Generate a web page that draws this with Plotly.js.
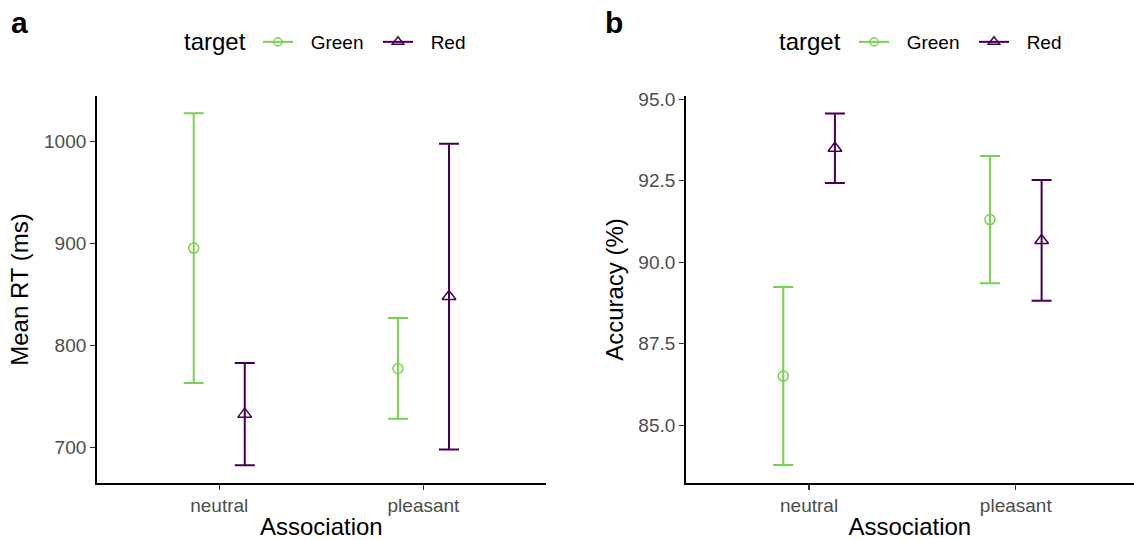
<!DOCTYPE html>
<html>
<head>
<meta charset="utf-8">
<script src="https://cdn.plot.ly/plotly-3.0.1.min.js"></script>
<style>html,body{margin:0;padding:0;background:#fff;}#chart{width:1134px;height:540px;}</style>
</head>
<body>
<div id="chart"></div>
<script>
// ---- data ----
const categories = ['neutral', 'pleasant'];
const targets = ['Green', 'Red'];

// Panel a: Mean RT (ms)
const rtGreenMean = [895.4, 777.4];
const rtGreenLow  = [763.2, 728.0];
const rtGreenHigh = [1027.7, 826.8];
const rtRedMean   = [732.6, 847.9];
const rtRedLow    = [682.4, 698.0];
const rtRedHigh   = [782.8, 997.7];

// Panel b: Accuracy (%)
const accGreenMean = [86.51, 91.31];
const accGreenLow  = [83.78, 89.36];
const accGreenHigh = [89.24, 93.26];
const accRedMean   = [93.50, 90.67];
const accRedLow    = [92.43, 88.82];
const accRedHigh   = [94.56, 92.52];

const rtTicks  = [700, 800, 900, 1000];
const accTicks = [85, 87.5, 90, 92.5, 95];

// ---- styling ----
const FONT = 'Liberation Sans, Arial, Helvetica, sans-serif';
const COLORS = {Green: '#7AD151', Red: '#440154'};
const SYMBOLS = {Green: 'circle-open', Red: 'triangle-up-open'};
const SIZES = {Green: 10, Red: 12};
const LEGEND_LABELS = {Green: '\u2002\u2006Green\u2002', Red: '\u2002\u2006Red'};
const DODGE = 0.125;
const catPos = categories.map((c, i) => i + 1);

function errTrace(name, mean, low, high, xa, ya, sign) {
  return {
    type: 'scatter', mode: 'markers', name: name, showlegend: false,
    x: catPos.map(p => p + sign * DODGE), y: mean,
    xaxis: xa, yaxis: ya,
    marker: {symbol: SYMBOLS[name], size: SIZES[name], color: COLORS[name], line: {width: 1.5, color: COLORS[name]}},
    error_y: {type: 'data', symmetric: false,
      array: high.map((h, i) => h - mean[i]),
      arrayminus: low.map((l, i) => mean[i] - l),
      color: COLORS[name], thickness: 2, width: 10}
  };
}
function legendTrace(name, xa, ya, leg) {
  return {
    type: 'scatter', mode: 'lines+markers', name: LEGEND_LABELS[name], legend: leg,
    x: [null], y: [null], xaxis: xa, yaxis: ya,
    line: {color: COLORS[name], width: 2},
    marker: {symbol: SYMBOLS[name], size: SIZES[name] - 2, color: COLORS[name], line: {width: 1.5, color: COLORS[name]}}
  };
}

const data = [
  errTrace('Green', rtGreenMean, rtGreenLow, rtGreenHigh, 'x', 'y', -1),
  errTrace('Red', rtRedMean, rtRedLow, rtRedHigh, 'x', 'y', 1),
  errTrace('Green', accGreenMean, accGreenLow, accGreenHigh, 'x2', 'y2', -1),
  errTrace('Red', accRedMean, accRedLow, accRedHigh, 'x2', 'y2', 1),
  legendTrace('Green', 'x', 'y', 'legend'),
  legendTrace('Red', 'x', 'y', 'legend'),
  legendTrace('Green', 'x2', 'y2', 'legend2'),
  legendTrace('Red', 'x2', 'y2', 'legend2')
];

const axisCommon = {
  showline: true, linecolor: '#000', linewidth: 1.6,
  ticks: 'outside', ticklen: 5, tickwidth: 1.4, tickcolor: '#333',
  showgrid: false, zeroline: false,
  tickfont: {family: FONT, size: 19, color: '#4D4D4D'}
};
const titleFont = {family: FONT, size: 24, color: '#000'};

const LEG_Y = (540 - 42) / 540;
const legendCommon = {
  orientation: 'h', yanchor: 'middle', xanchor: 'left',
  font: {family: FONT, size: 19, color: '#000'},
  bgcolor: 'rgba(0,0,0,0)', itemclick: false
};

const layout = {
  width: 1134, height: 540,
  margin: {l: 0, r: 0, t: 0, b: 0},
  paper_bgcolor: '#fff', plot_bgcolor: '#fff',
  font: {family: FONT},
  showlegend: true,
  xaxis: Object.assign({}, axisCommon, {
    domain: [96.7 / 1134, 546 / 1134], range: [0.4, 2.6],
    tickvals: catPos, ticktext: categories,
    title: {text: 'Association', font: titleFont, standoff: 3}
  }),
  yaxis: Object.assign({}, axisCommon, {
    domain: [(540 - 483) / 540, (540 - 96) / 540], range: [665.1, 1044.5],
    tickvals: rtTicks, anchor: 'x',
    title: {text: 'Mean RT (ms)', font: titleFont, standoff: 8}
  }),
  xaxis2: Object.assign({}, axisCommon, {
    domain: [685.7 / 1134, 1], range: [0.403, 2.572], anchor: 'y2',
    tickvals: catPos, ticktext: categories,
    title: {text: 'Association', font: titleFont, standoff: 3}
  }),
  yaxis2: Object.assign({}, axisCommon, {
    domain: [(540 - 483) / 540, (540 - 96) / 540], range: [83.23, 95.1],
    tickvals: accTicks, tickformat: '.1f', anchor: 'x2',
    title: {text: 'Accuracy (%)', font: titleFont, standoff: 8}
  }),
  legend: Object.assign({}, legendCommon, {x: 258 / 1134, y: LEG_Y}),
  legend2: Object.assign({}, legendCommon, {x: 854 / 1134, y: LEG_Y}),
  annotations: [
    {text: '<b>a</b>', xref: 'paper', yref: 'paper', x: 9 / 1134, y: 1 - 4 / 540,
     xanchor: 'left', yanchor: 'top', showarrow: false, font: {family: FONT, size: 30, color: '#000'}},
    {text: '<b>b</b>', xref: 'paper', yref: 'paper', x: 603 / 1134, y: 1 - 4 / 540,
     xanchor: 'left', yanchor: 'top', showarrow: false, font: {family: FONT, size: 30, color: '#000'}},
    {text: 'target', xref: 'paper', yref: 'paper', x: 182 / 1134, y: LEG_Y,
     xanchor: 'left', yanchor: 'middle', showarrow: false, font: {family: FONT, size: 24, color: '#000'}},
    {text: 'target', xref: 'paper', yref: 'paper', x: 777 / 1134, y: LEG_Y,
     xanchor: 'left', yanchor: 'middle', showarrow: false, font: {family: FONT, size: 24, color: '#000'}}
  ]
};

Plotly.newPlot('chart', data, layout, {staticPlot: true, displayModeBar: false});
</script>
</body>
</html>
